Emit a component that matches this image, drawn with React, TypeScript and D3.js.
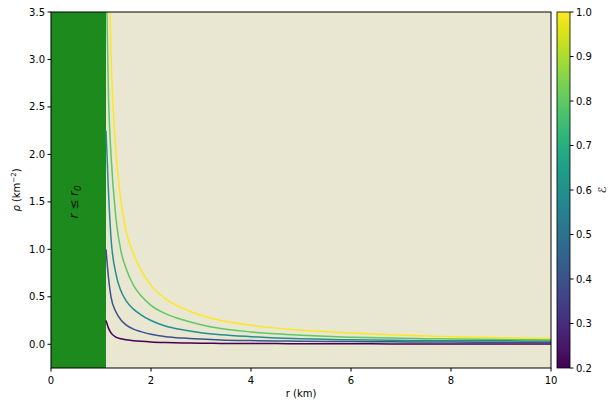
import React from "react";
import * as d3 from "d3";

// radial sample points (km) and densities for each energy value
const rValues = [1.1, 1.15, 1.2, 1.3, 1.4, 1.5, 1.65, 1.8, 2.0, 2.3, 2.65, 3.0, 3.4, 4.0, 4.5, 5.0, 5.6, 6.0, 6.8, 7.5, 8.0, 9.0, 10.0];
const energies = [0.2, 0.4, 0.6, 0.8, 1.0];
const rhoE02 = [0.25, 0.17, 0.12, 0.075, 0.058, 0.047, 0.038, 0.031, 0.024, 0.018, 0.014, 0.011, 0.009, 0.008, 0.007, 0.006, 0.005, 0.005, 0.004, 0.004, 0.003, 0.003, 0.003];
const rhoE04 = [1.0, 0.7, 0.5, 0.34, 0.255, 0.205, 0.16, 0.133, 0.105, 0.08, 0.065, 0.055, 0.046, 0.039, 0.035, 0.032, 0.029, 0.028, 0.026, 0.024, 0.023, 0.022, 0.021];
const rhoE06 = [2.25, 1.6, 1.12, 0.74, 0.56, 0.46, 0.37, 0.31, 0.25, 0.19, 0.15, 0.122, 0.1, 0.08, 0.067, 0.058, 0.051, 0.047, 0.042, 0.039, 0.037, 0.036, 0.035];
const rhoE08 = [4.0, 2.6, 2.0, 1.32, 0.98, 0.8, 0.62, 0.51, 0.41, 0.32, 0.255, 0.205, 0.165, 0.13, 0.11, 0.095, 0.081, 0.074, 0.065, 0.059, 0.056, 0.052, 0.05];
const rhoE10 = [6.25, 4.2, 3.05, 2.02, 1.5, 1.2, 0.95, 0.78, 0.62, 0.475, 0.375, 0.305, 0.25, 0.2, 0.17, 0.148, 0.13, 0.119, 0.1, 0.087, 0.079, 0.068, 0.06];
const seriesRho = [rhoE02, rhoE04, rhoE06, rhoE08, rhoE10];
const r0 = 1.1;
const xTicks = [0, 2, 4, 6, 8, 10];
const yTicks = [0, 0.5, 1, 1.5, 2, 2.5, 3, 3.5];
const cbTicks = [0.2, 0.3, 0.4, 0.5, 0.6, 0.7, 0.8, 0.9, 1.0];

const W = 615;
const H = 402;
const left = 51, right = 551, top = 12, bottom = 368;
const cbLeft = 557, cbRight = 570;
const font = "DejaVu Sans, sans-serif";

export default function App() {
  const x = d3.scaleLinear().domain([0, 10]).range([left, right]);
  const y = d3.scaleLinear().domain([-0.25, 3.5]).range([bottom, top]);
  const cb = d3.scaleLinear().domain([0.2, 1.0]).range([bottom, top]);
  const color = d3.scaleSequential(d3.interpolateViridis).domain([0.2, 1.0]);

  const line = d3
    .line<[number, number]>()
    .x((d) => x(d[0]))
    .y((d) => y(d[1]))
    .curve(d3.curveMonotoneX);

  const gradStops = d3.range(0, 1.0001, 0.05);

  return (
    <svg width={W} height={H} style={{ position: "absolute", left: 0, top: 0 }} fontFamily={font}>
      <defs>
        <clipPath id="plot">
          <rect x={left} y={top} width={right - left} height={bottom - top} />
        </clipPath>
        <linearGradient id="viridis" x1="0" y1="1" x2="0" y2="0">
          {gradStops.map((t) => (
            <stop key={t} offset={t} stopColor={d3.interpolateViridis(t)} />
          ))}
        </linearGradient>
      </defs>
      <rect width={W} height={H} fill="white" />
      <rect x={left} y={top} width={right - left} height={bottom - top} fill="#e9e6d1" />
      <rect x={x(0)} y={top} width={x(r0) - x(0)} height={bottom - top} fill="#1c8a1c" />
      <text
        transform={`translate(${x(r0 / 2) - 1},${y(1.5)}) rotate(-90)`}
        textAnchor="middle"
        fontSize={12}
        fontStyle="italic"
        fill="#111"
      >
        r ≤ r<tspan fontSize={9} dy={3}>0</tspan>
      </text>
      <g clipPath="url(#plot)">
        {seriesRho.map((vals, i) => (
          <path
            key={i}
            d={line(rValues.map((r, j) => [r, vals[j]] as [number, number])) || ""}
            fill="none"
            stroke={color(energies[i])}
            strokeWidth={1.5}
          />
        ))}
      </g>
      <rect x={left} y={top} width={right - left} height={bottom - top} fill="none" stroke="black" strokeWidth={1} />
      {xTicks.map((t) => (
        <g key={t} transform={`translate(${x(t)},${bottom})`}>
          <line y2={3.5} stroke="black" />
          <text y={16} textAnchor="middle" fontSize={10}>{t}</text>
        </g>
      ))}
      {yTicks.map((t) => (
        <g key={t} transform={`translate(${left},${y(t)})`}>
          <line x2={-3.5} stroke="black" />
          <text x={-6} dy="0.35em" textAnchor="end" fontSize={10}>{t.toFixed(1)}</text>
        </g>
      ))}
      <text x={(left + right) / 2} y={397} textAnchor="middle" fontSize={10}>r (km)</text>
      <text transform={`translate(20,${(top + bottom) / 2}) rotate(-90)`} textAnchor="middle" fontSize={10}>
        <tspan fontStyle="italic">ρ</tspan> (km<tspan fontSize={7} dy={-4}>−2</tspan><tspan dy={4}>)</tspan>
      </text>
      <rect x={cbLeft} y={top} width={cbRight - cbLeft} height={bottom - top} fill="url(#viridis)" stroke="black" strokeWidth={0.8} />
      {cbTicks.map((t) => (
        <g key={t} transform={`translate(${cbRight},${cb(t)})`}>
          <line x2={3.5} stroke="black" />
          <text x={6} dy="0.35em" fontSize={10}>{t.toFixed(1)}</text>
        </g>
      ))}
      <text transform={`translate(606,${(top + bottom) / 2}) rotate(-90)`} textAnchor="middle" fontSize={11} fontStyle="italic">ℰ</text>
    </svg>
  );
}
